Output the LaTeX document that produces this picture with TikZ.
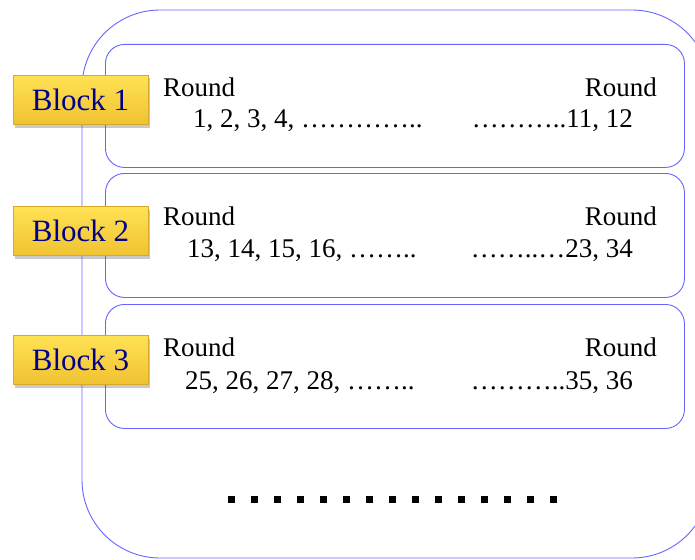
\documentclass[tikz,border=0pt]{standalone}
\usepackage{fontspec}
\setmainfont{Liberation Serif}
\usetikzlibrary{shadows}
\definecolor{lineblue}{HTML}{6666FF}
\definecolor{navytext}{HTML}{000088}
\definecolor{goldA}{HTML}{FFE254}
\definecolor{goldB}{HTML}{F0C232}
\definecolor{goldedge}{HTML}{D9A82A}
\tikzset{
  outline/.style={draw=lineblue, line width=0.9pt},
  innerbox/.style={outline, fill=white, rounded corners=19pt, minimum width=579pt, anchor=north west, inner sep=0pt},
  blocklabel/.style={draw=goldedge, line width=0.6pt, top color=goldA, bottom color=goldB,
     minimum width=135pt, minimum height=49pt, inner sep=0pt, text=navytext,
     font=\fontsize{31}{34}\selectfont,
     drop shadow={shadow xshift=2pt, shadow yshift=-3pt, opacity=0.35, fill=black!60}},
  roundtxt/.style={inner sep=0pt, font=\fontsize{27}{30}\selectfont},
  sqdot/.style={fill=black},
}
\begin{document}
\begin{tikzpicture}[x=1pt,y=-1pt]
\useasboundingbox (0,0) rectangle (695,559);
\begin{scope}
\clip (0,0) rectangle (695,559);
\draw[outline, fill=white, rounded corners=78pt] (82,558) -- (82,10) -- (710,10) -- (710,558) -- cycle;
\end{scope}
% inner boxes
\node[innerbox, minimum height=123pt] (box1) at (105,44) {};
\node[innerbox, minimum height=124pt] (box2) at (105,173) {};
\node[innerbox, minimum height=124pt] (box3) at (105,304) {};
% texts box 1
\node[roundtxt, anchor=base west] (r1l) at (163,96) {Round};
\node[roundtxt, anchor=base east] (r1r) at (657,96) {Round};
\node[roundtxt, anchor=base west] (n1l) at (193,128) {1, 2, 3, 4, …………..};
\node[roundtxt, anchor=base east] (n1r) at (633,128) {………..11, 12};
% texts box 2
\node[roundtxt, anchor=base west] (r2l) at (163,225) {Round};
\node[roundtxt, anchor=base east] (r2r) at (657,225) {Round};
\node[roundtxt, anchor=base west] (n2l) at (187,257) {13, 14, 15, 16, ……..};
\node[roundtxt, anchor=base east] (n2r) at (633,257) {……..…23, 34};
% texts box 3
\node[roundtxt, anchor=base west] (r3l) at (163,356) {Round};
\node[roundtxt, anchor=base east] (r3r) at (657,356) {Round};
\node[roundtxt, anchor=base west] (n3l) at (185,389) {25, 26, 27, 28, ……..};
\node[roundtxt, anchor=base east] (n3r) at (633,389) {………..35, 36};
% block labels
\node[blocklabel] (b1) at (80.5,100) {Block 1};
\node[blocklabel] (b2) at (80.5,231) {Block 2};
\node[blocklabel] (b3) at (80.5,360) {Block 3};
% dots
\foreach \i in {0,...,14}{
  \fill[sqdot] ({231+23.07*\i-3.5},495.5) rectangle ++(7,7);
}
\end{tikzpicture}
\end{document}
